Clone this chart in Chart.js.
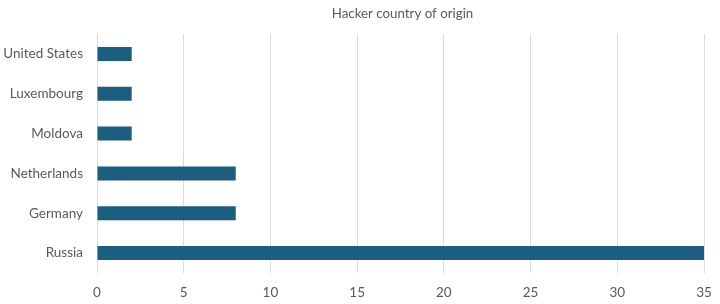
<!DOCTYPE html>
<html>
<head>
<meta charset="utf-8">
<script src="https://cdn.jsdelivr.net/npm/chart.js@4/dist/chart.umd.min.js"></script>
<style>
html,body{margin:0;padding:0;background:#fff;}
#wrap{width:720px;height:304px;position:relative;}
</style>
</head>
<body>
<div id="wrap"><canvas id="c" width="720" height="304"></canvas></div>
<script>
const categories = ["United States", "Luxembourg", "Moldova", "Netherlands", "Germany", "Russia"];
const counts = [2, 2, 2, 8, 8, 35];
const xTicks = [0, 5, 10, 15, 20, 25, 30, 35];
const titleText = "Hacker country of origin";

const FONT = "Lato, 'Open Sans', sans-serif";

const areaTitle = {
  id: 'areaTitle',
  afterDraw(chart) {
    const ctx = chart.ctx, a = chart.chartArea;
    ctx.save();
    ctx.font = "13.3px " + FONT;
    ctx.fillStyle = '#595959';
    ctx.textAlign = 'center';
    ctx.textBaseline = 'middle';
    ctx.fillText(titleText, (a.left + a.right) / 2 + 2, 14);
    ctx.restore();
  }
};

new Chart(document.getElementById('c'), {
  type: 'bar',
  data: {
    labels: categories,
    datasets: [{
      data: counts,
      backgroundColor: '#1c5e7f',
      borderWidth: 0,
      barPercentage: 0.7,
      categoryPercentage: 0.5
    }]
  },
  options: {
    indexAxis: 'y',
    responsive: false,
    animation: false,
    layout: { padding: { left: 0, right: 16, top: 34, bottom: 0 } },
    plugins: {
      legend: { display: false },
      tooltip: { enabled: false },
      title: { display: false }
    },
    scales: {
      x: {
        min: 0, max: 35,
        afterBuildTicks: s => { s.ticks = xTicks.map(v => ({ value: v })); },
        grid: { color: '#dddddd', drawTicks: false, lineWidth: 1 },
        border: { display: false },
        ticks: { color: '#595959', font: { family: FONT, size: 13.5 }, padding: 12 },
        afterFit: s => { s.height = 31; s.paddingLeft = 0; s.paddingRight = 0; }
      },
      y: {
        grid: { display: false, drawTicks: false },
        border: { display: false },
        ticks: { color: '#595959', font: { family: FONT, size: 13.5 }, padding: 14 },
        afterFit: s => { s.width = 97; s.paddingTop = 0; s.paddingBottom = 0; }
      }
    }
  },
  plugins: [areaTitle]
});
</script>
</body>
</html>
